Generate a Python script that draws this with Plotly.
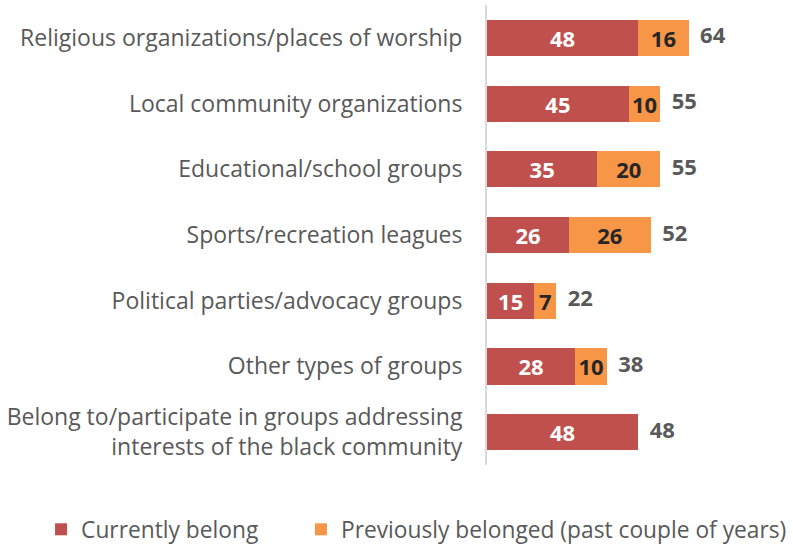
import plotly.graph_objects as go

categories = [
    "Religious organizations/places of worship",
    "Local community organizations",
    "Educational/school groups",
    "Sports/recreation leagues",
    "Political parties/advocacy groups",
    "Other types of groups",
    "Belong to/participate in groups addressing<br>interests of the black community",
]
currently = [48, 45, 35, 26, 15, 28, 48]
previously = [16, 10, 20, 26, 7, 10, None]
totals = [64, 55, 55, 52, 22, 38, 48]

RED = "#C0504D"
ORANGE = "#F79646"
GRAY = "#595959"
FONT = "Open Sans"

fig = go.Figure()
fig.add_trace(go.Bar(
    y=categories, x=currently, orientation="h", name="Currently belong",
    marker=dict(color=RED, line=dict(width=0)), legend="legend",
    text=currently, textposition="inside", insidetextanchor="middle",
    textangle=0, constraintext="none",
    textfont=dict(color="white", size=22, family=FONT, weight="bold"),
))
fig.add_trace(go.Bar(
    y=categories, x=previously, orientation="h", name="Previously belonged (past couple of years)",
    marker=dict(color=ORANGE, line=dict(width=0)), legend="legend2",
    text=[("" if v is None else v) for v in previously], textposition="inside", insidetextanchor="middle",
    textangle=0, constraintext="none",
    textfont=dict(color="#262626", size=22, family=FONT, weight="bold"),
))
fig.add_trace(go.Scatter(
    y=categories, x=totals, mode="text", text=["  " + str(t) for t in totals],
    textposition="middle right", showlegend=False, hoverinfo="skip",
    textfont=dict(color=GRAY, size=22, family=FONT, weight="bold"),
))

legend_common = dict(orientation="h", xanchor="left", y=-0.0935, yanchor="top",
                     font=dict(size=22.75, color=GRAY, family=FONT), itemwidth=30,
                     bgcolor="rgba(0,0,0,0)")

fig.update_layout(
    width=793, height=550,
    barmode="stack", bargap=0.45,
    margin=dict(l=487, r=13, t=5, b=85, autoexpand=False),
    plot_bgcolor="white", paper_bgcolor="white",
    font=dict(family=FONT, color=GRAY, size=18),
    showlegend=True,
    legend=dict(x=-1.522, **legend_common),
    legend2=dict(x=-0.635, **legend_common),
    xaxis=dict(range=[0, 93], visible=False, fixedrange=True),
    yaxis=dict(autorange="reversed", showline=True, linecolor="#D9D9D9", linewidth=2,
               ticks="", ticklabelstandoff=18, tickfont=dict(size=23, color=GRAY, family=FONT),
               showgrid=False, zeroline=False, fixedrange=True),
)

fig.write_html("out.html", config={"displayModeBar": False},
               post_script="document.body.style.margin='0';")
